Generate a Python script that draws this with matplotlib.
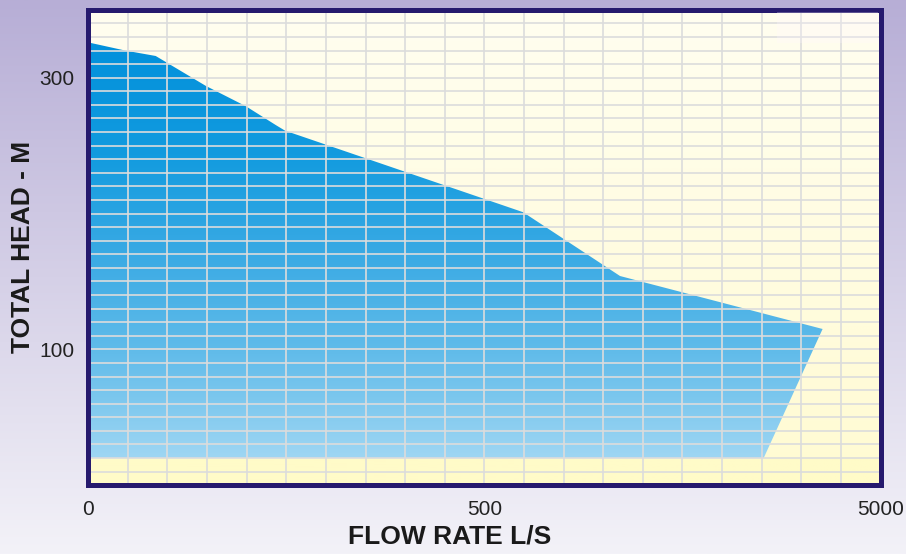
import numpy as np
import matplotlib
matplotlib.use("Agg")
import matplotlib.pyplot as plt
from matplotlib.patches import Polygon, Rectangle

# ---- data ----
flow = [50, 62, 74, 99, 125, 149, 157, 626, 1100, 3570, 2535, 50]      # L/S
head = [326, 320, 316, 294, 279, 265, 261, 201, 154, 115, 20, 20]     # m
x_ticks = [50, 500, 5000]
x_tick_labels = ["0", "500", "5000"]
y_ticks = [100, 300]
y_tick_labels = ["100", "300"]

plt.rcParams['font.family'] = ['Liberation Sans', 'DejaVu Sans']

fig = plt.figure(figsize=(9.06, 5.54), dpi=100)

# figure background gradient (lavender -> near white)
bg = fig.add_axes([0, 0, 1, 1], zorder=-10)
bg.axis('off')
top_c = np.array([183, 174, 214]) / 255
bot_c = np.array([243, 242, 248]) / 255
t = np.linspace(0, 1, 256)[:, None]
grad = top_c[None, :] * (1 - t) + bot_c[None, :] * t
bg.imshow(grad[:, None, :], extent=[0, 1, 0, 1], aspect='auto', origin='upper')
bg.set_xlim(0, 1); bg.set_ylim(0, 1)

ax = fig.add_axes([0.0974, 0.1242, 0.8745, 0.8581])
ax.set_xscale('log')
X0, X1, Y0, Y1 = 50, 5000, 0, 350

# plot-area cream gradient
yy = np.linspace(Y1, Y0, 400)
cream_top = np.array([255, 254, 240]) / 255
cream_bot = np.array([255, 251, 210]) / 255
tt = ((Y1 - yy) / (Y1 - Y0))[:, None]
cream = cream_top * (1 - tt) + cream_bot * tt
cream[yy < 20] = np.array([255, 251, 200]) / 255
ax.imshow(cream[:, None, :], extent=[X0, X1, Y0, Y1], aspect='auto',
          origin='upper', zorder=0, interpolation='bilinear')

# blue gradient clipped to the curve polygon
stops_y = [20, 96, 169, 243, 313, 350]
stops_c = np.array([[158, 214, 243], [98, 188, 234], [58, 170, 228],
                    [18, 155, 223], [5, 146, 220], [0, 144, 220]]) / 255
blue = np.stack([np.interp(yy, stops_y, stops_c[:, k]) for k in range(3)], axis=1)
im = ax.imshow(blue[:, None, :], extent=[X0, X1, Y0, Y1], aspect='auto',
               origin='upper', zorder=1, interpolation='bilinear')
poly = Polygon(np.column_stack([flow, head]), closed=True, facecolor='none',
               edgecolor='none', transform=ax.transData)
ax.add_patch(poly)
im.set_clip_path(poly)

# grid
for k in range(1, 20):
    ax.axvline(50 * 10 ** (k * 0.1), color='#dcdcdc', lw=1.2, zorder=2)
for v in range(10, 350, 10):
    ax.axhline(v, color='#dcdcdc', lw=1.2, zorder=2)

ax.set_xlim(X0, X1)
ax.set_ylim(Y0, Y1)
ax.set_xticks(x_ticks)
ax.set_xticklabels(x_tick_labels)
ax.xaxis.set_minor_locator(matplotlib.ticker.NullLocator())
ax.set_yticks(y_ticks)
ax.set_yticklabels(y_tick_labels)
ax.tick_params(axis='both', length=0, labelsize=15, colors='#222222')
ax.tick_params(axis='x', pad=11)
ax.tick_params(axis='y', pad=10)
for s in ax.spines.values():
    s.set_color('#261a6e')
    s.set_linewidth(3.6)
    s.set_zorder(5)

# faded corner artifact (top right)
fig.patches.append(Rectangle((777 / 906, 1 - 43 / 554), (878 - 777) / 906, 31 / 554,
                             transform=fig.transFigure, facecolor='#fff8ff',
                             alpha=0.25, edgecolor='none', zorder=20))

fig.text(450 / 906, 1 - 537 / 554, "FLOW RATE L/S", ha='center', va='center',
         fontsize=19, fontweight='bold', color='#1a1a1a')
fig.text(23 / 906, 1 - 247 / 554, "TOTAL HEAD - M", ha='center', va='center',
         rotation=90, fontsize=19, fontweight='bold', color='#1a1a1a')

fig.savefig("out.png", dpi=100)
